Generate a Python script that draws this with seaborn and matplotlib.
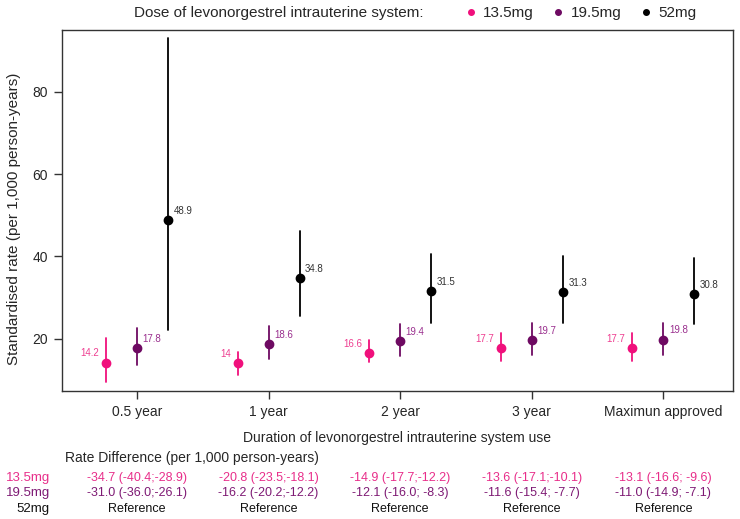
import numpy as np
import pandas as pd
import seaborn as sns
import matplotlib.pyplot as plt
from matplotlib.lines import Line2D

durations = ["0.5 year", "1 year", "2 year", "3 year", "Maximun approved"]
doses = ["13.5mg", "19.5mg", "52mg"]

# standardised rate and 95% CI (per 1,000 person-years)
rate_135 = [14.2, 14.0, 16.6, 17.7, 17.7]
low_135 = [9.6, 11.3, 14.4, 14.6, 14.6]
high_135 = [20.2, 16.8, 19.8, 21.4, 21.4]

rate_195 = [17.8, 18.6, 19.4, 19.7, 19.8]
low_195 = [13.7, 15.0, 15.7, 16.1, 16.1]
high_195 = [22.7, 23.1, 23.6, 23.8, 23.8]

rate_52 = [48.9, 34.8, 31.5, 31.3, 30.8]
low_52 = [22.2, 25.6, 23.8, 23.8, 23.6]
high_52 = [93.0, 46.1, 40.7, 40.0, 39.5]

rd_135 = ["-34.7 (-40.4;-28.9)", "-20.8 (-23.5;-18.1)", "-14.9 (-17.7;-12.2)",
          "-13.6 (-17.1;-10.1)", "-13.1 (-16.6; -9.6)"]
rd_195 = ["-31.0 (-36.0;-26.1)", "-16.2 (-20.2;-12.2)", "-12.1 (-16.0; -8.3)",
          "-11.6 (-15.4; -7.7)", "-11.0 (-14.9; -7.1)"]
rd_52 = ["Reference"] * 5

point_cols = {"13.5mg": "#F0107C", "19.5mg": "#6E0A62", "52mg": "#000000"}
label_cols = {"13.5mg": "#EE3F91", "19.5mg": "#9A2F8E", "52mg": "#333333"}
table_cols = {"13.5mg": "#E82E8A", "19.5mg": "#7E1A74", "52mg": "#111111"}

# each group gets (low, rate, high) so median = rate and the 100% interval = CI
rows = []
for dose, r, lo, hi in [("13.5mg", rate_135, low_135, high_135),
                        ("19.5mg", rate_195, low_195, high_195),
                        ("52mg", rate_52, low_52, high_52)]:
    for i, d in enumerate(durations):
        for v in (lo[i], r[i], hi[i]):
            rows.append({"duration": d, "dose": dose, "value": v})
df = pd.DataFrame(rows)

sns.set_style("ticks")
plt.rcParams['font.family'] = ['Liberation Sans', 'DejaVu Sans']

fig = plt.figure(figsize=(7.4, 5.19), dpi=100)
ax = fig.add_axes([62 / 740, 1 - 391 / 519, (733 - 62) / 740, (391 - 30) / 519])

sns.pointplot(data=df, x="duration", y="value", hue="dose", order=durations,
              hue_order=doses, palette=point_cols, estimator="median",
              errorbar=("pi", 100), dodge=0.472, linestyle="none",
              markersize=5, err_kws={"linewidth": 1.3}, ax=ax)

# value labels
offs = {"13.5mg": -0.236, "19.5mg": 0.0, "52mg": 0.236}
for dose, r in [("13.5mg", rate_135), ("19.5mg", rate_195), ("52mg", rate_52)]:
    for i, v in enumerate(r):
        txt = f"{v:g}"
        if dose == "13.5mg":
            ax.annotate(txt, (i + offs[dose], v), xytext=(-5, 3), textcoords="offset points",
                        ha="right", va="bottom", fontsize=7, color=label_cols[dose])
        else:
            ax.annotate(txt, (i + offs[dose], v), xytext=(4, 3), textcoords="offset points",
                        ha="left", va="bottom", fontsize=7, color=label_cols[dose])

ax.set_xlim(-0.57, 4.53)
ax.set_ylim(7.3, 95)
ax.set_yticks([20, 40, 60, 80])
ax.tick_params(axis="both", labelsize=10, length=6, width=1, color="#333333", pad=4)
for s in ax.spines.values():
    s.set_color("#333333")
    s.set_linewidth(1)
ax.set_xlabel("")
ax.set_ylabel("Standardised rate (per 1,000 person-years)", fontsize=11)
ax.yaxis.set_label_coords(-0.061, 0.476)

handles = [Line2D([], [], marker="o", linestyle="none", color=point_cols[d], markersize=4)
           for d in doses]
if ax.get_legend() is not None:
    ax.get_legend().remove()
fig.text(134 / 740, 1 - 13 / 519, "Dose of levonorgestrel intrauterine system:",
         fontsize=11, ha="left", va="center")
fig.legend(handles, doses, ncol=3, frameon=False, loc="center left",
           bbox_to_anchor=(448 / 740, 1 - 13 / 519), fontsize=11,
           handletextpad=0.2, columnspacing=1.0, handlelength=1.2)

# x axis title and the rate difference table under the plot
fig.text(397 / 740, 1 - 438 / 519, "Duration of levonorgestrel intrauterine system use",
         fontsize=10, ha="center", va="center")
fig.text(65 / 740, 1 - 458 / 519, "Rate Difference (per 1,000 person-years)",
         fontsize=10, ha="left", va="center")
for dose, vals, y in [("13.5mg", rd_135, 478), ("19.5mg", rd_195, 493), ("52mg", rd_52, 509)]:
    fig.text(50 / 740, 1 - y / 519, dose, fontsize=9.5, ha="right", va="center",
             color=table_cols[dose])
    for i, t in enumerate(vals):
        xd, _ = ax.transData.transform((i, 0))
        fig.text(xd / fig.bbox.width, 1 - y / 519, t, fontsize=9, ha="center",
                 va="center", color=table_cols[dose])

fig.savefig("out.png", dpi=100)
